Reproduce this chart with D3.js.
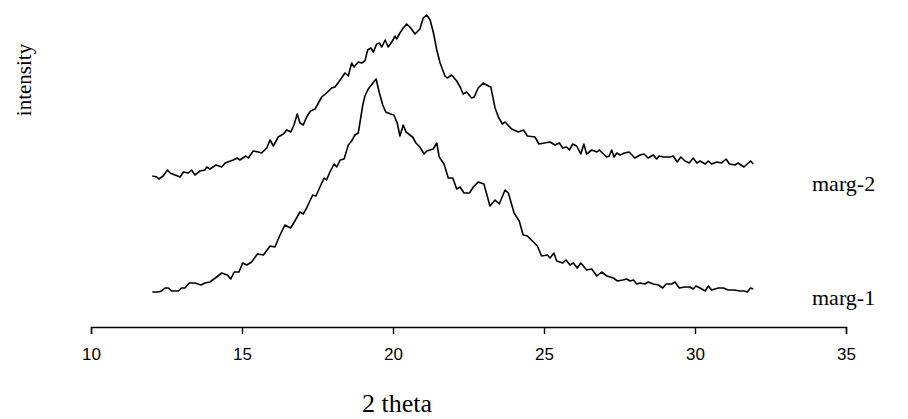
<!DOCTYPE html>
<html>
<head>
<meta charset="utf-8">
<script src="https://cdn.jsdelivr.net/npm/d3@7"></script>
<style>
  body { margin: 0; background: #fff; }
  svg { display: block; }
</style>
</head>
<body>
<div id="chart"></div>
<script>
// 2 theta positions and intensities (arbitrary units)
var theta2 = [12.03, 12.18, 12.25, 12.39, 12.53, 12.62, 12.78, 12.95, 13.06, 13.22, 13.33, 13.44, 13.61, 13.77, 13.83, 13.94,
  14.14, 14.33, 14.44, 14.71, 14.84, 14.93, 15.13, 15.21, 15.37, 15.54, 15.65, 15.82, 15.93, 16.04, 16.20, 16.37, 16.48,
  16.62, 16.72, 16.83, 16.92, 17.03, 17.14, 17.27, 17.42, 17.64, 17.80, 17.97, 18.08, 18.25, 18.41, 18.52, 18.63, 18.71,
  18.85, 18.96, 19.07, 19.16, 19.27, 19.35, 19.46, 19.55, 19.63, 19.74, 19.84, 19.96, 20.07, 20.12, 20.23, 20.34, 20.45,
  20.56, 20.73, 20.89, 21.00, 21.12, 21.23, 21.34, 21.45, 21.56, 21.72, 21.80, 21.94, 22.11, 22.24, 22.32, 22.44, 22.60,
  22.69, 22.82, 22.99, 23.16, 23.24, 23.38, 23.49, 23.62, 23.71, 23.93, 24.15, 24.32, 24.45, 24.70, 24.83, 25.20, 25.36,
  25.51, 25.62, 25.75, 25.84, 25.95, 26.08, 26.22, 26.32, 26.41, 26.58, 26.75, 26.83, 27.08, 27.16, 27.24, 27.32, 27.41,
  27.52, 27.66, 27.82, 28.01, 28.18, 28.31, 28.45, 28.62, 28.73, 28.81, 28.95, 29.17, 29.28, 29.41, 29.53, 29.67, 29.81,
  29.94, 30.06, 30.17, 30.34, 30.44, 30.55, 30.72, 30.88, 31.03, 31.14, 31.32, 31.43, 31.62, 31.84, 31.93];
var marg2 = [134, 133, 131, 134, 140, 137, 135, 133, 138, 137, 140, 135, 139, 140, 143, 141,
  145, 143, 147, 150, 152, 150, 154, 152, 159, 158, 157, 162, 170, 164, 173, 176, 180,
  178, 185, 196, 187, 185, 193, 199, 201, 213, 217, 222, 223, 230, 237, 234, 247, 243,
  248, 247, 249, 260, 262, 258, 266, 267, 263, 270, 263, 268, 274, 271, 277, 282, 286,
  283, 276, 281, 292, 295, 290, 277, 260, 247, 234, 232, 235, 229, 222, 216, 218, 212,
  213, 222, 227, 224, 223, 202, 193, 186, 188, 181, 178, 180, 174, 173, 166, 168, 165,
  167, 162, 163, 160, 166, 164, 156, 166, 156, 160, 158, 160, 153, 154, 160, 153, 157,
  155, 157, 158, 152, 155, 156, 152, 155, 151, 154, 153, 153, 154, 148, 153, 149, 147,
  152, 147, 149, 146, 149, 146, 148, 147, 151, 146, 145, 147, 143, 149, 146];

var theta1 = [12.03, 12.23, 12.34, 12.45, 12.56, 12.67, 12.89, 13.00, 13.11, 13.25, 13.44, 13.64, 13.77, 13.94, 14.16, 14.33,
  14.51, 14.63, 14.74, 14.90, 15.02, 15.16, 15.32, 15.51, 15.71, 15.93, 16.09, 16.26, 16.42, 16.61, 16.75, 16.92, 17.03,
  17.14, 17.34, 17.45, 17.64, 17.72, 17.80, 17.91, 18.05, 18.14, 18.25, 18.38, 18.52, 18.63, 18.74, 18.85, 19.00, 19.07,
  19.18, 19.31, 19.44, 19.55, 19.66, 19.76, 19.92, 20.03, 20.14, 20.23, 20.34, 20.43, 20.56, 20.65, 20.76, 20.89, 21.03,
  21.12, 21.33, 21.45, 21.53, 21.69, 21.83, 21.98, 22.11, 22.22, 22.35, 22.53, 22.66, 22.82, 23.01, 23.21, 23.38, 23.52,
  23.71, 23.82, 24.01, 24.18, 24.31, 24.45, 24.65, 24.78, 24.92, 25.11, 25.20, 25.33, 25.42, 25.62, 25.73, 25.86, 25.97,
  26.10, 26.22, 26.41, 26.58, 26.75, 26.91, 27.08, 27.30, 27.43, 27.61, 27.74, 27.85, 27.96, 28.07, 28.18, 28.34, 28.45,
  28.62, 28.79, 28.93, 29.04, 29.23, 29.34, 29.48, 29.67, 29.83, 29.94, 30.03, 30.17, 30.34, 30.44, 30.55, 30.77, 30.94,
  31.10, 31.32, 31.47, 31.62, 31.73, 31.84, 31.93];
var marg1 = [18, 18, 19, 22, 22, 19, 19, 22, 22, 27, 27, 25, 27, 28, 33, 37,
  35, 31, 38, 38, 47, 45, 48, 56, 55, 64, 63, 75, 85, 82, 89, 98, 96,
  102, 115, 114, 127, 132, 130, 138, 146, 143, 150, 151, 165, 169, 175, 177, 205, 214,
  221, 226, 231, 217, 205, 198, 196, 195, 187, 174, 185, 178, 175, 173, 167, 163, 156,
  159, 161, 167, 153, 146, 132, 132, 121, 123, 117, 117, 123, 128, 126, 104, 110, 106,
  120, 117, 97, 89, 75, 74, 68, 64, 54, 55, 52, 57, 49, 47, 50, 45, 47,
  42, 47, 40, 41, 34, 38, 34, 32, 29, 30, 31, 29, 30, 26, 27, 26, 28,
  26, 25, 22, 26, 26, 28, 22, 23, 23, 21, 24, 22, 19, 24, 20, 22, 22,
  20, 20, 19, 19, 18, 22, 21];

var xTicks = [10, 15, 20, 25, 30, 35];
var seriesNames = ["marg-1", "marg-2"];

var width = 908,
    height = 419;

var x = d3.scaleLinear()
    .domain([10, 35])
    .range([91, 846]);

var y = d3.scaleLinear()
    .domain([0, 300])
    .range([310, 10]);

var svg = d3.select("#chart").append("svg")
    .attr("width", width)
    .attr("height", height);

var line = d3.line()
    .x(function(d) { return x(d[0]); })
    .y(function(d) { return y(d[1]); });

var series = [d3.zip(theta1, marg1), d3.zip(theta2, marg2)];

svg.selectAll(".trace")
    .data(series)
    .enter().append("path")
    .attr("class", "trace")
    .attr("fill", "none")
    .attr("stroke", "#000")
    .attr("stroke-width", 1.6)
    .attr("stroke-linejoin", "round")
    .attr("d", line);

// series names to the right of each trace, a little below its last point
var labelDrop = [16, 27];
svg.selectAll(".name")
    .data(series)
    .enter().append("text")
    .attr("class", "name")
    .attr("x", 812)
    .attr("y", function(d, i) { return y(d[d.length - 1][1]) + labelDrop[i]; })
    .style("font-family", "'Liberation Serif', 'Times New Roman', serif")
    .style("font-size", "22px")
    .text(function(d, i) { return seriesNames[i]; });

var axis = svg.append("g")
    .attr("transform", "translate(0,327)")
    .call(d3.axisBottom(x).tickValues(xTicks).tickSize(7).tickPadding(14));

axis.select(".domain").attr("stroke-width", 1.4);
axis.selectAll(".tick line").attr("stroke-width", 1.4);
axis.selectAll(".tick text")
    .style("font-family", "'Liberation Sans', Arial, sans-serif")
    .style("font-size", "17px")
    .attr("fill", "#000");

svg.append("text")
    .attr("x", 397)
    .attr("y", 412)
    .attr("text-anchor", "middle")
    .style("font-family", "'Liberation Serif', 'Times New Roman', serif")
    .style("font-size", "26px")
    .text("2 theta");

svg.append("text")
    .attr("transform", "translate(31,80) rotate(-90)")
    .attr("text-anchor", "middle")
    .style("font-family", "'Liberation Serif', 'Times New Roman', serif")
    .style("font-size", "21px")
    .text("intensity");
</script>
</body>
</html>
